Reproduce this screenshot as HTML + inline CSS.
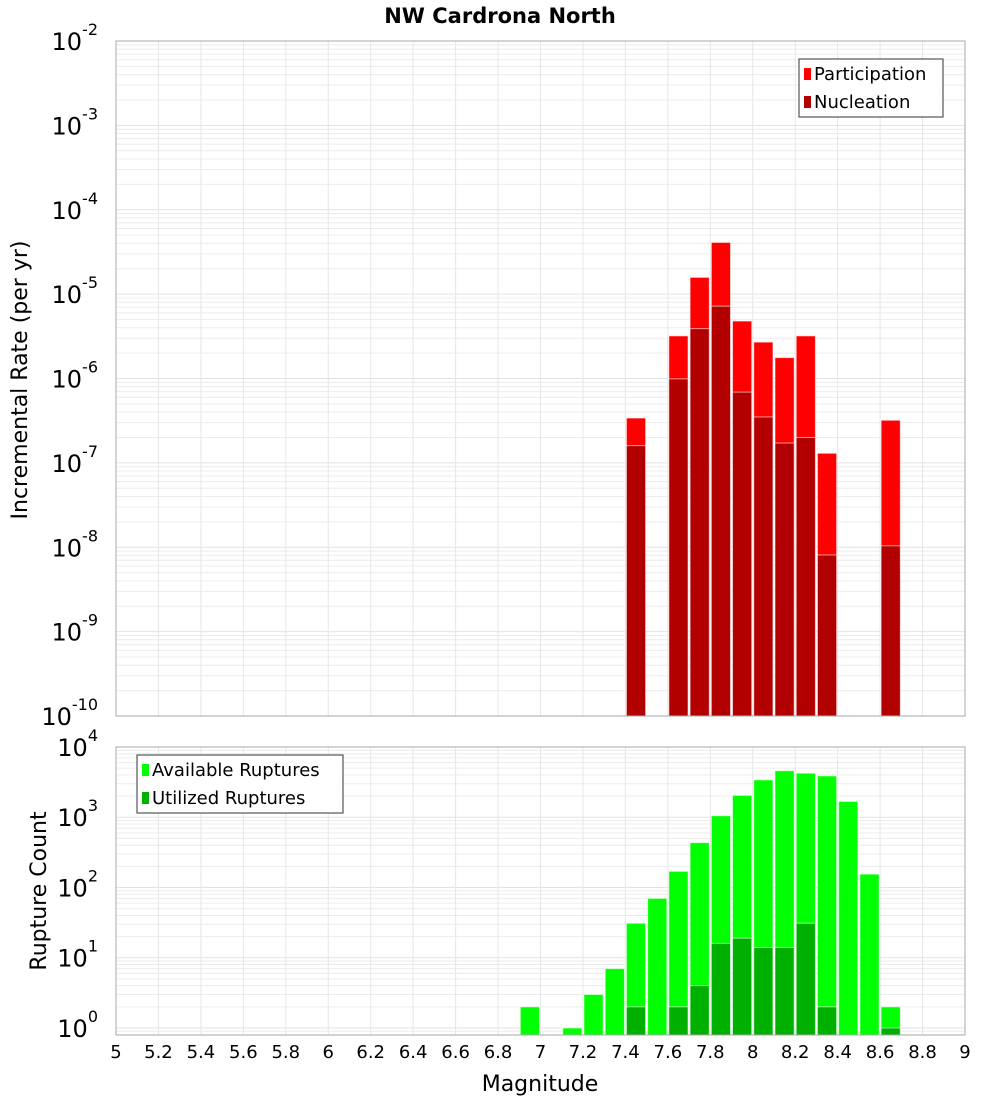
<!DOCTYPE html>
<html><head><meta charset="utf-8"><style>
body{margin:0;background:#fff;font-family:"DejaVu Sans","Liberation Sans",sans-serif}
svg{display:block}
</style></head><body>
<svg id="c" width="1000" height="1100" xmlns="http://www.w3.org/2000/svg">
<text x="500" y="23" text-anchor="middle" font-size="21" font-weight="bold" font-family="DejaVu Sans, Liberation Sans, sans-serif">NW Cardrona North</text>
<text transform="translate(27,380) rotate(-90)" text-anchor="middle" font-size="22">Incremental Rate (per yr)</text>
<text transform="translate(46,891) rotate(-90)" text-anchor="middle" font-size="22">Rupture Count</text>
<text x="540" y="1091" text-anchor="middle" font-size="22">Magnitude</text>
<g id="g"></g>
</svg>
<script>
const bins=[6.95,7.15,7.25,7.35,7.45,7.55,7.65,7.75,7.85,7.95,8.05,8.15,8.25,8.35,8.45,8.55,8.65];
const partBins=[7.45,7.65,7.75,7.85,7.95,8.05,8.15,8.25,8.35,8.65];
const participation=[3.4e-7,3.2e-6,1.58e-5,4.1e-5,4.8e-6,2.7e-6,1.77e-6,3.2e-6,1.3e-7,3.2e-7];
const nucleation=[1.6e-7,9.9e-7,3.9e-6,7.2e-6,6.9e-7,3.5e-7,1.72e-7,2.0e-7,8.1e-9,1.04e-8];
const available=[2,1,3,7,31,70,170,435,1050,2050,3400,4600,4240,3880,1680,155,2];
const utilized=[0,0,0,0,2,0,2,4,16,19,14,14,31,2,0,0,1];
const xTicks=[5,5.2,5.4,5.6,5.8,6,6.2,6.4,6.6,6.8,7,7.2,7.4,7.6,7.8,8,8.2,8.4,8.6,8.8,9];
const topExps=[-2,-3,-4,-5,-6,-7,-8,-9,-10];
const botExps=[4,3,2,1,0];
const NS="http://www.w3.org/2000/svg",G=document.getElementById('g');
function mk(t,a,p){const e=document.createElementNS(NS,t);for(const k in a)e.setAttribute(k,a[k]);(p||G).appendChild(e);return e;}
const X0=116,X1=965;
const xs=v=>X0+(v-5)/4*(X1-X0);
const T={top:41,bot:716,lo:-10,hi:-2},B={top:747,bot:1035,lo:-0.1,hi:4.0};
const ys=(P,v)=>P.bot-(Math.log10(v)-P.lo)/(P.hi-P.lo)*(P.bot-P.top);
function grid(P,name){
  const g=mk('g',{});
  for(let d=Math.floor(P.lo);d<P.hi;d++)for(let m=1;m<10;m++){const v=m*Math.pow(10,d);const y=ys(P,v);if(y<P.top-0.1||y>P.bot+0.1)continue;
    mk('line',{x1:X0,x2:X1,y1:y,y2:y,stroke:m==1?'#e2e2e2':'#ececec','stroke-width':1},g);}
  xTicks.forEach(t=>{const x=xs(t);mk('line',{x1:x,x2:x,y1:P.top,y2:P.bot,stroke:'#e6e6e6'},g);});
}
function frame(P,name){const r=mk('rect',{x:X0,y:P.top,width:X1-X0,height:P.bot-P.top,fill:'none',stroke:'#aaa','stroke-width':1});}
function bar(P,c,v,fill,name){if(!(v>0))return;const y=ys(P,v);const w=(X1-X0)/40;
  const r=mk('rect',{x:xs(c)-w/2+1,y:y,width:w-2,height:P.bot-y,fill:fill,stroke:'#fff','stroke-opacity':0.6,'stroke-width':1});
  }
function ylab(P,e,name){const y=ys(P,Math.pow(10,e));const t=mk('text',{x:98,y:y+9,'text-anchor':'end','font-size':24});
  
  t.textContent='10';const s=mk('tspan',{dy:-15,'font-size':16},t);s.textContent=String(e);}
grid(T,'top');grid(B,'bottom');
partBins.forEach((c,i)=>bar(T,c,participation[i],'#ff0000','participation-bar'));
partBins.forEach((c,i)=>bar(T,c,nucleation[i],'#b20000','nucleation-bar'));
bins.forEach((c,i)=>bar(B,c,available[i],'#00ff00','available-bar'));
bins.forEach((c,i)=>bar(B,c,utilized[i],'#00b000','utilized-bar'));
frame(T,'top');frame(B,'bottom');
topExps.forEach(e=>ylab(T,e,'top-y-tick-label'));
botExps.forEach(e=>ylab(B,e,'bottom-y-tick-label'));
xTicks.forEach(t=>{const tx=mk('text',{x:xs(t),y:1058,'text-anchor':'middle','font-size':18});
  tx.textContent=String(t);});
function legend(x,y,w,items,name){const g=mk('g',{});
  mk('rect',{x:x,y:y,width:w,height:58,fill:'#fff',stroke:'#333','stroke-width':1},g);
  items.forEach((it,i)=>{mk('rect',{x:x+5,y:y+9+i*28,width:7,height:12,fill:it[1]},g);
    const t=mk('text',{x:x+15,y:y+21+i*28,'font-size':18},g);t.textContent=it[0];});}
legend(799,59,144,[['Participation','#ff0000'],['Nucleation','#b20000']],'top-legend');
legend(137,755,206,[['Available Ruptures','#00ff00'],['Utilized Ruptures','#00b000']],'bottom-legend');
</script>
</body></html>
